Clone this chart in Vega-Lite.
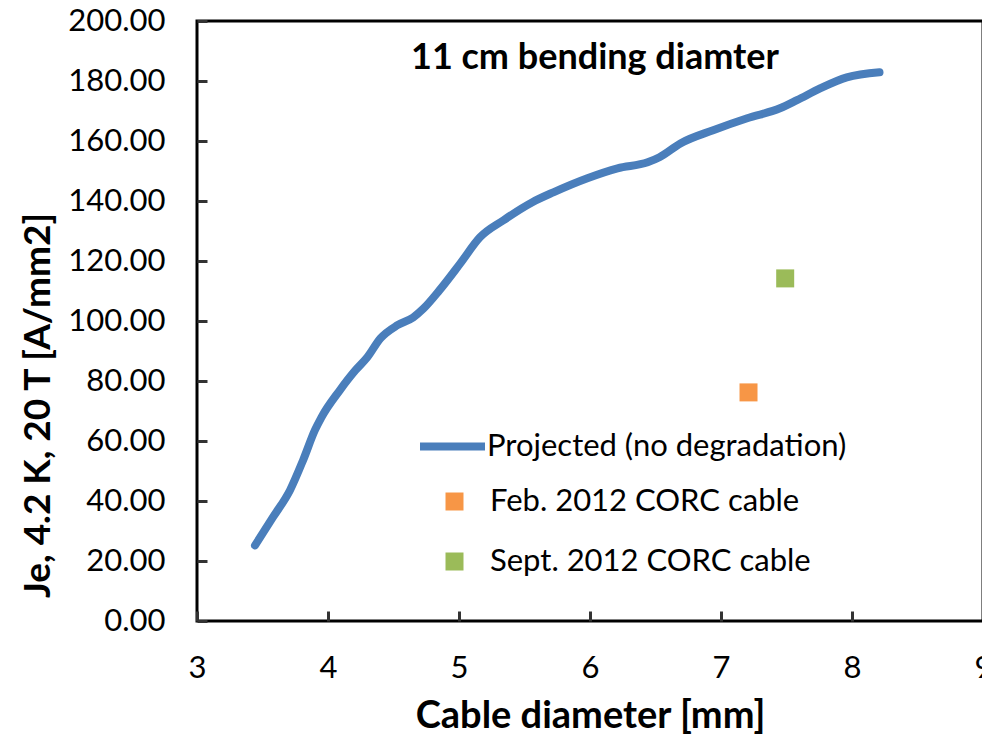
{
  "$schema": "https://vega.github.io/schema/vega-lite/v6.json",
  "width": 786,
  "height": 600,
  "autosize": {"type": "none"},
  "padding": {"left": 197, "top": 21, "right": 0, "bottom": 113},
  "background": "white",
  "title": {
    "text": "11 cm bending diamter",
    "anchor": "start",
    "frame": "group",
    "orient": "top",
    "offset": 0,
    "dx": 214,
    "dy": 100,
    "baseline": "alphabetic",
    "font": "Lato",
    "fontSize": 36,
    "fontWeight": "bold",
    "color": "black"
  },
  "config": {
    "view": {"stroke": "black", "strokeWidth": 3},
    "axis": {"grid": false},
    "legend": {"padding": 0}
  },
  "data": {
    "values": [
      {"series": "Projected (no degradation)", "d": 3.443, "je": 25.2},
      {"series": "Projected (no degradation)", "d": 3.58, "je": 34.6},
      {"series": "Projected (no degradation)", "d": 3.71, "je": 43.6},
      {"series": "Projected (no degradation)", "d": 3.81, "je": 53.6},
      {"series": "Projected (no degradation)", "d": 3.9, "je": 63.6},
      {"series": "Projected (no degradation)", "d": 3.95, "je": 67.9},
      {"series": "Projected (no degradation)", "d": 4.09, "je": 76.9},
      {"series": "Projected (no degradation)", "d": 4.21, "je": 83.6},
      {"series": "Projected (no degradation)", "d": 4.3, "je": 87.9},
      {"series": "Projected (no degradation)", "d": 4.4, "je": 94.2},
      {"series": "Projected (no degradation)", "d": 4.53, "je": 98.6},
      {"series": "Projected (no degradation)", "d": 4.65, "je": 101.2},
      {"series": "Projected (no degradation)", "d": 4.73, "je": 104.2},
      {"series": "Projected (no degradation)", "d": 4.85, "je": 110.2},
      {"series": "Projected (no degradation)", "d": 5.01, "je": 119.2},
      {"series": "Projected (no degradation)", "d": 5.16, "je": 127.9},
      {"series": "Projected (no degradation)", "d": 5.34, "je": 133.6},
      {"series": "Projected (no degradation)", "d": 5.56, "je": 139.6},
      {"series": "Projected (no degradation)", "d": 5.72, "je": 142.9},
      {"series": "Projected (no degradation)", "d": 5.98, "je": 147.6},
      {"series": "Projected (no degradation)", "d": 6.21, "je": 150.9},
      {"series": "Projected (no degradation)", "d": 6.44, "je": 152.9},
      {"series": "Projected (no degradation)", "d": 6.53, "je": 154.6},
      {"series": "Projected (no degradation)", "d": 6.69, "je": 159.2},
      {"series": "Projected (no degradation)", "d": 6.94, "je": 163.6},
      {"series": "Projected (no degradation)", "d": 7.2, "je": 167.6},
      {"series": "Projected (no degradation)", "d": 7.45, "je": 170.9},
      {"series": "Projected (no degradation)", "d": 7.58, "je": 173.6},
      {"series": "Projected (no degradation)", "d": 7.76, "je": 177.6},
      {"series": "Projected (no degradation)", "d": 7.96, "je": 181.2},
      {"series": "Projected (no degradation)", "d": 8.21, "je": 182.9},
      {"series": "Feb. 2012 CORC cable", "d": 7.21, "je": 76.2},
      {"series": "Sept. 2012 CORC cable", "d": 7.49, "je": 114.2}
    ]
  },
  "encoding": {
    "x": {
      "field": "d",
      "type": "quantitative",
      "scale": {"domain": [3, 9], "nice": false, "zero": false},
      "axis": {
        "title": "Cable diameter [mm]",
        "values": [3, 4, 5, 6, 7, 8, 9],
        "format": "d",
        "domain": false,
        "tickSize": -10,
        "tickWidth": 3,
        "tickColor": "#333333",
        "labelPadding": 66,
        "labelBaseline": "alphabetic",
        "labelFont": "Lato",
        "labelFontSize": 31,
        "labelColor": "black",
        "labelFlush": false,
        "labelOverlap": false,
        "titleFont": "Lato",
        "titleFontSize": 38,
        "titleFontWeight": "bold",
        "titleColor": "black",
        "titleBaseline": "alphabetic",
        "titleY": 106
      }
    },
    "y": {
      "field": "je",
      "type": "quantitative",
      "scale": {"domain": [0, 200], "nice": false},
      "axis": {
        "title": "Je, 4.2 K, 20 T [A/mm2]",
        "values": [0, 20, 40, 60, 80, 100, 120, 140, 160, 180, 200],
        "format": ".2f",
        "domain": false,
        "tickSize": -10,
        "tickWidth": 3,
        "tickColor": "#333333",
        "labelPadding": 42,
        "labelFont": "Lato",
        "labelFontSize": 31,
        "labelColor": "black",
        "labelFlush": false,
        "labelOverlap": false,
        "titleFont": "Lato",
        "titleFontSize": 37,
        "titleFontWeight": "bold",
        "titleColor": "black",
        "titleAlign": "center",
        "titleBaseline": "middle",
        "titleAngle": -90,
        "titleX": -159,
        "titleY": 384
      }
    }
  },
  "layer": [
    {
      "transform": [{"filter": "datum.series === 'Projected (no degradation)'"}],
      "mark": {"type": "line", "strokeWidth": 8, "strokeCap": "round", "strokeJoin": "round", "interpolate": "monotone"},
      "encoding": {
        "color": {
          "field": "series",
          "type": "nominal",
          "scale": {"domain": ["Projected (no degradation)"], "range": ["#4A7EBB"]},
          "legend": {
            "title": null,
            "orient": "none",
            "legendX": 219,
            "legendY": 389,
            "symbolType": "stroke",
            "symbolSize": 4225,
            "symbolStrokeWidth": 8,
            "labelOffset": -2,
            "labelFont": "Lato",
            "labelFontSize": 31,
            "labelColor": "black",
            "labelLimit": 600
          }
        }
      }
    },
    {
      "transform": [{"filter": "datum.series !== 'Projected (no degradation)'"}],
      "mark": {"type": "point", "shape": "square", "filled": true, "size": 324, "opacity": 1},
      "encoding": {
        "color": {
          "field": "series",
          "type": "nominal",
          "scale": {"domain": ["Feb. 2012 CORC cable", "Sept. 2012 CORC cable"], "range": ["#F79646", "#9BBB59"]},
          "legend": {
            "title": null,
            "orient": "none",
            "legendX": 242,
            "legendY": 465,
            "symbolType": "square",
            "symbolSize": 324,
            "symbolOpacity": 1,
            "symbolStrokeWidth": 0,
            "rowPadding": 28,
            "labelOffset": 20,
            "labelFont": "Lato",
            "labelFontSize": 31,
            "labelColor": "black",
            "labelLimit": 600
          }
        }
      }
    }
  ],
  "resolve": {"scale": {"color": "independent"}, "legend": {"color": "independent"}}
}
